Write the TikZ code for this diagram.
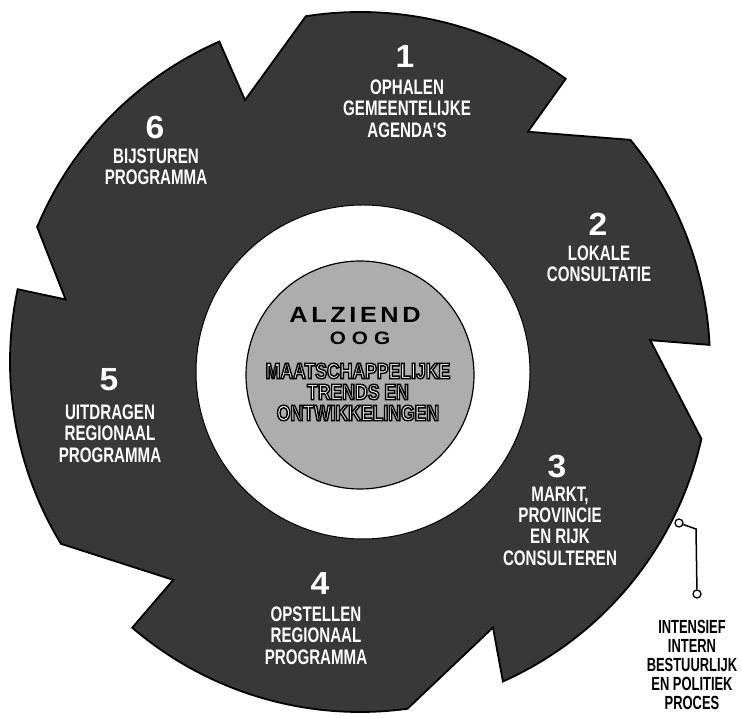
\documentclass[tikz,border=0pt]{standalone}
\usepackage{fontspec}
\setmainfont{Liberation Sans}
\newfontfamily\fSeg[FakeStretch=0.72]{Liberation Sans}
\newfontfamily\fNum[FakeStretch=1.05]{Liberation Sans}
\newfontfamily\fCtr[FakeStretch=0.8]{Liberation Sans}
\newfontfamily\fEye[FakeStretch=1.15]{Liberation Sans}
\newfontfamily\fSide[FakeStretch=0.68]{Liberation Sans}
\newcommand\outon{\special{pdf:literal direct 2 Tr 1.4 w 0 G}}
\newcommand\outoff{\special{pdf:literal direct 0 Tr}}
\tikzset{
  segtxt/.style={text=white, inner sep=0pt, align=center, anchor=north, font={\fontsize{21}{21.4}\fSeg\bfseries}},
  segnum/.style={text=white, inner sep=0pt, font={\fontsize{32}{32}\fNum\bfseries}},
  ctrtxt/.style={inner sep=0pt, align=center, anchor=north, font={\fontsize{22}{21}\fCtr\bfseries}},
  eye/.style={text=black, inner sep=0pt},
  side/.style={text=black, inner sep=0pt, align=center, anchor=north, font={\fontsize{19}{19}\fSide\bfseries}},
  dotc/.style={circle, draw=black, fill=white, line width=1.3pt, minimum size=8pt, inner sep=0pt},
  ring/.style={fill=black!78, draw=black, line width=1.8pt, line join=miter},
  link/.style={draw=black, line width=1.5pt},
}
\begin{document}
\begin{tikzpicture}[x=1pt,y=1pt]
\useasboundingbox (0,0) rectangle (741,717);
\fill[white] (0,0) rectangle (741,717);
% saw-blade ring
\begin{scope}[shift={(360,355)}]
\draw[ring] (113.7:286pt) -- (98.9:350pt)
  arc[start angle=98.9, end angle=54, radius=350pt]
  -- (53.9:285pt) -- (39.4:350pt)
  arc[start angle=39.4, end angle=2.8, radius=350pt]
  -- (4.3:291pt) -- (-12.7:350pt)
  arc[start angle=-12.7, end angle=-65.9, radius=350pt]
  -- (-63.4:297pt) -- (-82.2:350pt)
  arc[start angle=-82.2, end angle=-130.6, radius=350pt]
  -- (-130.6:287pt) -- (-148.7:350pt)
  arc[start angle=-148.7, end angle=-192, radius=350pt]
  -- (168:301pt) -- (157.3:350pt)
  arc[start angle=157.3, end angle=113.7, radius=350pt]
  -- cycle;
\end{scope}
% inner white ring and grey core
\draw[fill=white, draw=black, line width=1pt] (363,345) circle[radius=167pt];
\draw[fill=black!32, draw=black, line width=1.2pt] (360,342) circle[radius=114pt];
% segment numbers
\node[segnum] (n1) at (405,660) {1};
\node[segnum] (n2) at (598,493) {2};
\node[segnum] (n3) at (557,250) {3};
\node[segnum] (n4) at (320,134) {4};
\node[segnum] (n5) at (109,337) {5};
\node[segnum] (n6) at (155,590) {6};
% segment labels
\node[segtxt] (s1) at (407,637.5) {OPHALEN\\GEMEENTELIJKE\\AGENDA'S};
\node[segtxt] (s2) at (599,471.5) {LOKALE\\CONSULTATIE};
\node[segtxt] (s3) at (560,230.5) {MARKT,\\PROVINCIE\\EN RIJK\\CONSULTEREN};
\node[segtxt] (s4) at (316,110.5) {OPSTELLEN\\REGIONAAL\\PROGRAMMA};
\node[segtxt] (s5) at (110,312.5) {UITDRAGEN\\REGIONAAL\\PROGRAMMA};
\node[segtxt] (s6) at (156,568.5) {BIJSTUREN\\PROGRAMMA};
% centre
\node[eye, font={\fontsize{22}{22}\fEye\bfseries}] (alz) at (355,402)
  {A\kern3.6pt L\kern3.6pt Z\kern3.6pt I\kern3.6pt E\kern3.6pt N\kern3.6pt D};
\node[eye, font={\fontsize{18}{18}\fEye\bfseries}] (oog) at (360,379) {O\kern6pt O\kern6pt G};
\node[ctrtxt, text=white] (ctr) at (358,354)
  {\outon MAATSCHAPPELIJKE\outoff\\\outon TRENDS EN\outoff\\\outon ONTWIKKELINGEN\outoff};
% side note with connector
\node[dotc] (d1) at (679,194) {};
\node[dotc] (d2) at (697,123) {};
\coordinate (bend) at (696,188);
\draw[link] (d1) -- (bend) -- (d2);
\node[side] (proc) at (692,97) {INTENSIEF\\INTERN\\BESTUURLIJK\\EN POLITIEK\\PROCES};
\end{tikzpicture}
\end{document}
